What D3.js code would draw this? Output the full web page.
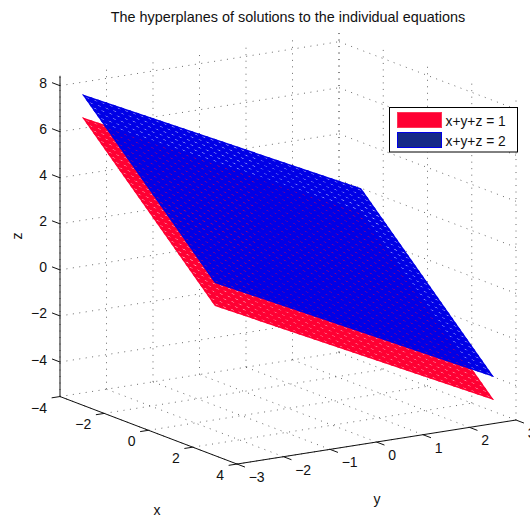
<!DOCTYPE html>
<html>
<head>
<meta charset="utf-8">
<style>
  html, body { margin: 0; padding: 0; background: #fff; overflow: hidden; }
  text { font-family: "Liberation Sans", Arial, sans-serif; font-size: 14px; fill: #111; }
</style>
</head>
<body>
<svg id="chart" width="530" height="516"></svg>
<script src="https://cdn.jsdelivr.net/npm/d3@7"></script>
<script>
// axis limits and tick values
const xLim = [-4, 4];
const yLim = [-3, 3];
const zLim = [-5.5, 8.43];
const xTicks = [-4, -2, 0, 2, 4];
const yTicks = [-3, -2, -1, 0, 1, 2, 3];
const zTicks = [-4, -2, 0, 2, 4, 6, 8];

// the two planes: x+y+z = c, over this x/y patch
const planeNames = ['x+y+z = 1', 'x+y+z = 2'];
const planeValues = [1, 2];
const planeColors = ['#ff0033', '#0000e6'];
const patchX = [-3, 3];
const patchY = [-3, 3];
const meshCells = 36;

const svg = d3.select('#chart');

// ── Fixed-view projection: each data axis has its own pixel offset scales ──
const xToH = d3.scaleLinear().domain(xLim).range([0, 177]);
const xToV = d3.scaleLinear().domain(xLim).range([0, 67.5]);
const yToH = d3.scaleLinear().domain(yLim).range([0, 279]);
const yToV = d3.scaleLinear().domain(yLim).range([0, -44]);
const zToV = d3.scaleLinear().domain([-4, 8]).range([362, 85.7]);
const ORIGIN_X = 60;

const px = (x, y) => ORIGIN_X + xToH(x) + yToH(y);
const py = (x, y, z) => zToV(z) + xToV(x) + yToV(y);
const path3 = d3.line().x(d => px(d[0], d[1])).y(d => py(d[0], d[1], d[2]));

const grid = svg.append('g')
    .attr('fill', 'none').attr('stroke', '#444')
    .attr('stroke-width', 0.8).attr('stroke-dasharray', '1 5.5');
function gridLine(a, b) { grid.append('path').attr('d', path3([a, b])); }

const [x0, x1] = xLim, [y0, y1] = yLim, [z0, z1] = zLim;

// floor and back walls
xTicks.forEach(x => {
    gridLine([x, y0, z0], [x, y1, z0]);
    gridLine([x, y1, z0], [x, y1, z1]);
});
yTicks.forEach(y => {
    gridLine([x0, y, z0], [x1, y, z0]);
    gridLine([x0, y, z0], [x0, y, z1]);
});
zTicks.forEach(z => {
    gridLine([x0, y0, z], [x0, y1, z]);
    gridLine([x0, y1, z], [x1, y1, z]);
});

// ── Planes, stroked as a thick mesh so tiny holes show what is behind ─────
const defs = svg.append('defs');
planeValues.forEach((c, i) => {
    const corner = (x, y) => [x, y, c - x - y];
    const [a0, a1] = patchX, [b0, b1] = patchY;
    defs.append('clipPath').attr('id', 'patch' + i).append('path')
        .attr('d', path3([corner(a0, b0), corner(a1, b0), corner(a1, b1), corner(a0, b1), corner(a0, b0)]));

    const g = svg.append('g')
        .attr('clip-path', `url(#patch${i})`)
        .attr('fill', 'none').attr('stroke', planeColors[i])
        .attr('stroke-width', 3.4);
    const xs = d3.range(meshCells + 1).map(k => a0 + (a1 - a0) * k / meshCells);
    const ys = d3.range(meshCells + 1).map(k => b0 + (b1 - b0) * k / meshCells);
    xs.forEach(x => g.append('path').attr('d', path3([corner(x, b0), corner(x, b1)])));
    ys.forEach(y => g.append('path').attr('d', path3([corner(a0, y), corner(a1, y)])));
});

// ── Axes ──────────────────────────────────────────────────────────────────
const axes = svg.append('g').attr('stroke', '#111').attr('fill', 'none').attr('stroke-width', 1);
function axisLine(a, b) { axes.append('path').attr('d', path3([a, b])); }

axisLine([x0, y0, z0], [x0, y0, z1]);
axisLine([x0, y0, z0], [x1, y0, z0]);
axisLine([x1, y0, z0], [x1, y1, z0]);

const X_TICK = 0.36, Y_TICK = 0.18;
zTicks.forEach(z => axisLine([x0, y0, z], [x0 - X_TICK, y0, z]));
xTicks.forEach(x => axisLine([x, y0, z0], [x, y0 - Y_TICK, z0]));
yTicks.forEach(y => axisLine([x1, y, z0], [x1 + X_TICK, y, z0]));

const fmt = d => String(d).replace('-', '\u2212');
const labels = svg.append('g');

xTicks.forEach(x => labels.append('text')
    .attr('x', px(x, y0) - 13).attr('y', py(x, y0, z0) + 16)
    .attr('text-anchor', 'end').text(fmt(x)));
yTicks.forEach(y => labels.append('text')
    .attr('x', px(x1, y) + 11.7).attr('y', py(x1, y, z0) + 18)
    .attr('text-anchor', 'start').text(fmt(y)));
zTicks.forEach(z => labels.append('text')
    .attr('x', ORIGIN_X - 13).attr('y', py(x0, y0, z) + 2.5)
    .attr('text-anchor', 'end').text(fmt(z)));

labels.append('text').attr('x', 157).attr('y', 514.5).attr('text-anchor', 'middle').text('x');
labels.append('text').attr('x', 377).attr('y', 504).attr('text-anchor', 'middle').text('y');
labels.append('text').attr('transform', 'translate(22,236) rotate(-90)').attr('text-anchor', 'middle').text('z');

labels.append('text').attr('x', 288).attr('y', 21.5)
    .attr('text-anchor', 'middle').style('font-size', '14.4px')
    .text('The hyperplanes of solutions to the individual equations');

// ── Legend ────────────────────────────────────────────────────────────────
const legend = svg.append('g').attr('transform', 'translate(389.5,107.5)');
legend.append('rect').attr('width', 128).attr('height', 44.5)
    .attr('fill', '#fff').attr('stroke', '#000').attr('stroke-width', 1);

const legendFill = ['#ff0033', '#152a87'];
const legendEdge = ['#ff3355', '#0000e6'];
planeNames.forEach((name, i) => {
    const top = 5 + i * 20;
    legend.append('rect').attr('x', 8).attr('y', top).attr('width', 44).attr('height', 15)
        .attr('fill', legendFill[i]).attr('stroke', legendEdge[i]);
    legend.append('text').attr('x', 56).attr('y', top + 13).style('font-size', '13.8px').text(name);
});
</script>
</body>
</html>
